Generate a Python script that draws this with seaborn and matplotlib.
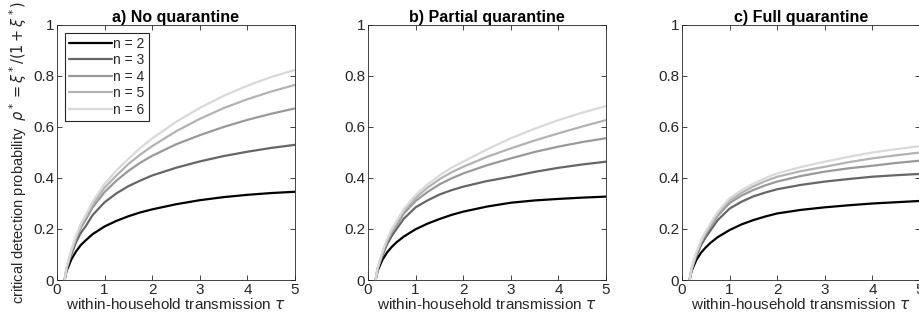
import numpy as np
import pandas as pd
import matplotlib
matplotlib.use("Agg")
import matplotlib.pyplot as plt
import seaborn as sns

# ---- data ----
tau = [0.16, 0.2, 0.3, 0.4, 0.5, 0.6, 0.75, 1.0, 1.25, 1.5, 1.75, 2.0, 2.5, 3.0, 3.5, 4.0, 4.5, 5.0]
household_sizes = [2, 3, 4, 5, 6]
panel_titles = ["a) No quarantine", "b) Partial quarantine", "c) Full quarantine"]

no_quarantine = {
    2: [0, 0.035, 0.08, 0.112, 0.137, 0.155, 0.18, 0.21, 0.232, 0.25, 0.265, 0.277, 0.297, 0.313, 0.325, 0.334, 0.341, 0.346],
    3: [0, 0.042, 0.10, 0.148, 0.185, 0.21, 0.255, 0.305, 0.34, 0.368, 0.39, 0.41, 0.44, 0.465, 0.486, 0.503, 0.518, 0.53],
    4: [0, 0.045, 0.11, 0.162, 0.205, 0.235, 0.285, 0.345, 0.39, 0.428, 0.46, 0.487, 0.532, 0.568, 0.60, 0.628, 0.652, 0.673],
    5: [0, 0.047, 0.113, 0.168, 0.213, 0.245, 0.298, 0.362, 0.41, 0.455, 0.492, 0.525, 0.583, 0.632, 0.674, 0.709, 0.739, 0.765],
    6: [0, 0.049, 0.117, 0.173, 0.22, 0.253, 0.308, 0.377, 0.43, 0.475, 0.518, 0.555, 0.62, 0.675, 0.722, 0.762, 0.796, 0.824],
}
partial_quarantine = {
    2: [0, 0.035, 0.078, 0.108, 0.13, 0.148, 0.17, 0.199, 0.221, 0.239, 0.255, 0.268, 0.288, 0.303, 0.312, 0.318, 0.323, 0.327],
    3: [0, 0.04, 0.095, 0.14, 0.173, 0.20, 0.24, 0.285, 0.312, 0.335, 0.352, 0.366, 0.388, 0.405, 0.424, 0.44, 0.453, 0.464],
    4: [0, 0.043, 0.102, 0.15, 0.187, 0.216, 0.26, 0.31, 0.345, 0.375, 0.398, 0.418, 0.45, 0.477, 0.502, 0.523, 0.541, 0.556],
    5: [0, 0.045, 0.106, 0.155, 0.194, 0.224, 0.27, 0.322, 0.362, 0.395, 0.422, 0.444, 0.483, 0.516, 0.547, 0.575, 0.602, 0.627],
    6: [0, 0.046, 0.109, 0.16, 0.2, 0.231, 0.278, 0.333, 0.375, 0.41, 0.44, 0.464, 0.512, 0.556, 0.593, 0.627, 0.656, 0.682],
}
full_quarantine = {
    2: [0, 0.035, 0.078, 0.107, 0.128, 0.146, 0.168, 0.196, 0.218, 0.235, 0.249, 0.261, 0.275, 0.285, 0.293, 0.30, 0.305, 0.31],
    3: [0, 0.04, 0.093, 0.137, 0.168, 0.195, 0.235, 0.28, 0.307, 0.328, 0.343, 0.356, 0.373, 0.386, 0.396, 0.405, 0.411, 0.416],
    4: [0, 0.042, 0.1, 0.146, 0.18, 0.21, 0.252, 0.302, 0.331, 0.353, 0.371, 0.386, 0.408, 0.425, 0.438, 0.448, 0.459, 0.468],
    5: [0, 0.044, 0.104, 0.151, 0.186, 0.217, 0.26, 0.312, 0.342, 0.367, 0.388, 0.405, 0.427, 0.444, 0.462, 0.477, 0.489, 0.50],
    6: [0, 0.045, 0.107, 0.155, 0.191, 0.223, 0.267, 0.321, 0.352, 0.378, 0.40, 0.418, 0.443, 0.464, 0.483, 0.50, 0.513, 0.525],
}
panels = [no_quarantine, partial_quarantine, full_quarantine]

x_ticks = [0, 1, 2, 3, 4, 5]
y_ticks = [0, 0.2, 0.4, 0.6, 0.8, 1]
y_tick_labels = ["0", "0.2", "0.4", "0.6", "0.8", "1"]

# ---- styling ----
sns.set_theme(style="white")
plt.rcParams["font.family"] = ["Liberation Sans", "DejaVu Sans"]
plt.rcParams["mathtext.fontset"] = "dejavusans"

grays = ["#000000", "#666666", "#999999", "#b3b3b3", "#d9d9d9"]
palette = {f"n = {n}": c for n, c in zip(household_sizes, grays)}

fig = plt.figure(figsize=(9.19, 3.24), dpi=100)
W, H = 919, 324
lefts = [57, 368, 682]
ax_w, ax_top, ax_bot = 238, 25, 280
axes = [fig.add_axes([l / W, 1 - ax_bot / H, ax_w / W, (ax_bot - ax_top) / H]) for l in lefts]

edge = "#262626"
for i, (ax, data, title) in enumerate(zip(axes, panels, panel_titles)):
    rows = []
    for n in household_sizes:
        for t, v in zip(tau, data[n]):
            rows.append({"tau": t, "rho": v, "series": f"n = {n}"})
    df = pd.DataFrame(rows)
    sns.lineplot(data=df, x="tau", y="rho", hue="series", palette=palette,
                 linewidth=1.6, ax=ax, legend=(i == 0), sort=True)
    ax.set_xlim(0, 5)
    ax.set_ylim(0, 1)
    ax.set_xticks(x_ticks)
    ax.set_xticklabels([str(t) for t in x_ticks])
    ax.set_yticks(y_ticks)
    ax.set_yticklabels(y_tick_labels)
    ax.tick_params(direction="in", length=3.5, width=0.6, top=True, right=True,
                   bottom=True, left=True, labelsize=11, colors=edge, pad=2)
    for lab in ax.get_xticklabels() + ax.get_yticklabels():
        lab.set_color(edge)
    for s in ax.spines.values():
        s.set_visible(True)
        s.set_color(edge)
        s.set_linewidth(0.6)
    ax.set_title(title, fontsize=11.5, fontweight="bold", color="black", pad=2)
    ax.set_xlabel(r"within-household transmission $\tau$", fontsize=11, color=edge, labelpad=0)
    if i == 0:
        ax.set_ylabel(r"critical detection probability  $\rho^* = \xi^*/(1+\xi^*)$",
                      fontsize=10.5, color=edge, labelpad=3)
        leg = ax.legend(loc="upper left", frameon=True, fancybox=False, fontsize=10,
                        handlelength=3.1, handletextpad=0.1, borderpad=0.3,
                        labelspacing=0.18, borderaxespad=0.55)
        leg.get_frame().set_edgecolor(edge)
        leg.get_frame().set_linewidth(0.8)
        leg.get_frame().set_alpha(1)
        for line in leg.get_lines():
            line.set_linewidth(1.6)
    else:
        ax.set_ylabel("")

fig.savefig("out.png", dpi=100)
